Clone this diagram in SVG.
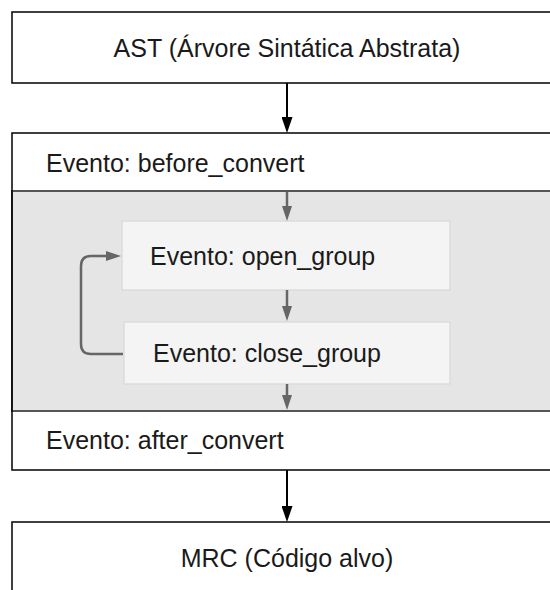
<svg xmlns="http://www.w3.org/2000/svg" width="550" height="590" viewBox="0 0 550 590">
  <defs>
    <style>
      .box { fill: #ffffff; stroke: #000000; stroke-width: 1.5; }
      .band { fill: #e5e5e5; stroke: none; }
      .band-edge { stroke: #555555; stroke-width: 2; }
      .inner { fill: #f4f4f4; stroke: #dcdcdc; stroke-width: 1.5; }
      .label { font-family: "Liberation Sans", Arial, sans-serif; font-size: 25px; fill: #1a1a1a; }
      .mid { text-anchor: middle; }
      .flow { fill: none; stroke: #000000; stroke-width: 2; }
      .flow-inner { fill: none; stroke: #666666; stroke-width: 2.5; }
    </style>
    <marker id="head-black" markerUnits="userSpaceOnUse" markerWidth="16" markerHeight="11" refX="0" refY="5.5" orient="auto">
      <path d="M0,0 L16,5.5 L0,11 z" fill="#000000"/>
    </marker>
    <marker id="head-gray" markerUnits="userSpaceOnUse" markerWidth="15" markerHeight="10" refX="0" refY="5" orient="auto">
      <path d="M0,0 L15,5 L0,10 z" fill="#666666"/>
    </marker>
  </defs>

  <rect x="0" y="0" width="550" height="590" fill="#ffffff"/>

  <!-- source tree -->
  <g id="ast">
    <rect class="box" x="12" y="12" width="560" height="71"/>
    <text class="label mid" x="287" y="57">AST (Árvore Sintática Abstrata)</text>
  </g>

  <!-- conversion stage: outer frame with the grouped events band -->
  <g id="convert-stage">
    <rect class="box" x="12" y="133" width="560" height="337"/>
  </g>

  <g id="before_convert">
    <text class="label" x="46" y="172">Evento: before_convert</text>
  </g>

  <g id="group-band">
    <rect class="band" x="12.75" y="191" width="560" height="220"/>
    <line class="band-edge" x1="12" y1="191" x2="572" y2="191"/>
    <line class="band-edge" x1="12" y1="411" x2="572" y2="411"/>
    <line x1="12" y1="190" x2="12" y2="412" stroke="#000000" stroke-width="1.5"/>
  </g>

  <g id="open_group">
    <rect class="inner" x="122" y="221" width="328" height="69"/>
    <text class="label" x="150" y="265">Evento: open_group</text>
  </g>

  <g id="close_group">
    <rect class="inner" x="124" y="322" width="326" height="62"/>
    <text class="label" x="153" y="362">Evento: close_group</text>
  </g>

  <g id="after_convert">
    <text class="label" x="46" y="449">Evento: after_convert</text>
  </g>

  <!-- target code -->
  <g id="mrc">
    <rect class="box" x="12" y="522" width="560" height="80"/>
    <text class="label mid" x="287" y="567">MRC (Código alvo)</text>
  </g>

  <!-- connectors -->
  <g id="connectors">
    <line class="flow" x1="287" y1="83" x2="287" y2="117" marker-end="url(#head-black)"/>
    <line class="flow" x1="287" y1="470" x2="287" y2="506" marker-end="url(#head-black)"/>
    <line class="flow-inner" x1="287" y1="192" x2="287" y2="206" marker-end="url(#head-gray)"/>
    <line class="flow-inner" x1="287" y1="290" x2="287" y2="306" marker-end="url(#head-gray)"/>
    <line class="flow-inner" x1="287" y1="384" x2="287" y2="395" marker-end="url(#head-gray)"/>
    <path class="flow-inner" d="M123,354 H91 Q81,354 81,344 V266 Q81,256 91,256 H106" marker-end="url(#head-gray)"/>
  </g>
</svg>
